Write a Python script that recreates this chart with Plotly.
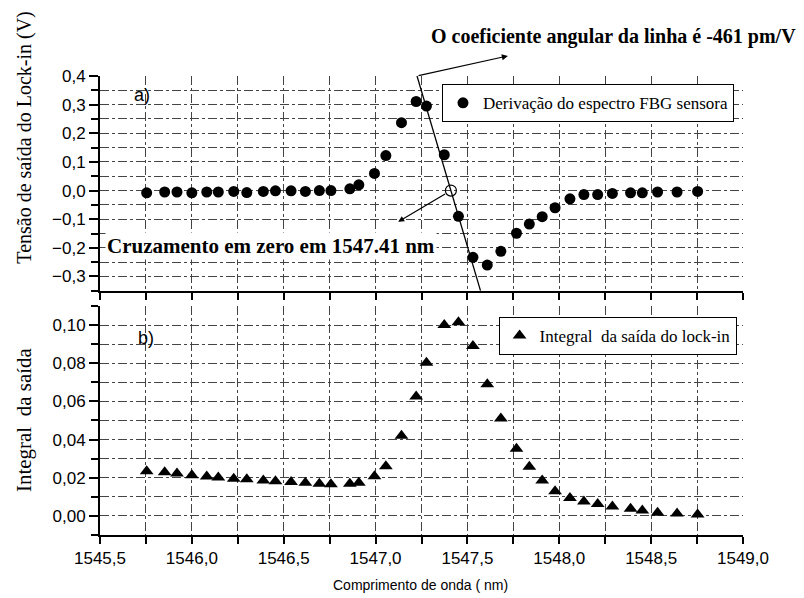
"""Derivative of the sensing FBG spectrum and its integral (lock-in output)."""

import plotly.graph_objects as go

# wavelength of each measurement (nm), shared by both panels
wavelength = [
    1545.754, 1545.852, 1545.919, 1546.000, 1546.081, 1546.144, 1546.228,
    1546.299, 1546.389, 1546.455, 1546.540, 1546.618, 1546.694, 1546.757,
    1546.860, 1546.909, 1546.994, 1547.056, 1547.141, 1547.221, 1547.277,
    1547.374, 1547.451, 1547.530, 1547.608, 1547.682, 1547.767, 1547.837,
    1547.907, 1547.977, 1548.058, 1548.134, 1548.209, 1548.289, 1548.388,
    1548.452, 1548.535, 1548.641, 1548.753,
]

# lock-in output voltage (V) - panel a)
lockin_v = [
    -0.008, -0.005, -0.005, -0.008, -0.005, -0.005, -0.003, -0.007, -0.003,
    -0.001, -0.001, -0.003, 0.000, 0.000, 0.006, 0.020, 0.060, 0.122, 0.237,
    0.311, 0.295, 0.125, -0.090, -0.233, -0.260, -0.212, -0.149, -0.117,
    -0.091, -0.060, -0.029, -0.014, -0.014, -0.010, -0.008, -0.008, -0.005,
    -0.005, -0.003,
]

# integral of the lock-in output - panel b)
integral = [
    0.0234, 0.0229, 0.0222, 0.0213, 0.0206, 0.0201, 0.0195, 0.0192, 0.0185,
    0.0182, 0.0178, 0.0174, 0.0169, 0.0166, 0.0169, 0.0174, 0.0208, 0.0260,
    0.0420, 0.0625, 0.0803, 0.1000, 0.1014, 0.0890, 0.0690, 0.0510, 0.0352,
    0.0257, 0.0185, 0.0129, 0.0094, 0.0075, 0.0063, 0.0049, 0.0038, 0.0028,
    0.0017, 0.0012, 0.0007,
]

# linear fit through the zero crossing
zero_crossing = 1547.41  # nm
slope_pm_per_v = -461
fit_v = [0.40, -0.35]
fit_wl = [zero_crossing + slope_pm_per_v / 1000 * v for v in fit_v]

SERIF = "Liberation Serif, Times New Roman, serif"
SANS = "Liberation Sans, Arial, sans-serif"
GRID = dict(showgrid=True, gridcolor="#444", gridwidth=1, griddash="dashdot")

fig = go.Figure()

fig.add_trace(go.Scatter(
    x=wavelength, y=lockin_v, mode="markers", name="Derivação do espectro FBG sensora",
    marker=dict(symbol="circle", size=11, color="black"),
    xaxis="x", yaxis="y", legend="legend",
))
fig.add_trace(go.Scatter(
    x=fit_wl, y=fit_v, mode="lines", showlegend=False,
    line=dict(color="black", width=1.3), xaxis="x", yaxis="y",
))
fig.add_trace(go.Scatter(
    x=[zero_crossing], y=[0], mode="markers", showlegend=False,
    marker=dict(symbol="circle-open", size=11, color="black", line=dict(width=1.2)),
    xaxis="x", yaxis="y",
))
fig.add_trace(go.Scatter(
    x=wavelength, y=integral, mode="markers",
    name="Integral&nbsp;&nbsp;da saída do lock-in",
    marker=dict(symbol="triangle-up", size=12, color="black"),
    xaxis="x2", yaxis="y2", legend="legend2",
))

xcommon = dict(
    range=[1545.5, 1549.0], tick0=1545.5, dtick=0.5,
    showline=True, linecolor="black", linewidth=2,
    ticks="outside", ticklen=7, tickwidth=1.5, tickcolor="black",
    minor=dict(dtick=0.25, ticks="outside", ticklen=7, tickcolor="black", **GRID),
    zeroline=False, **GRID,
)

fig.update_layout(
    width=804, height=598,
    margin=dict(l=92, r=69, t=68, b=71),
    paper_bgcolor="white", plot_bgcolor="white",
    separators=",.",
    font=dict(family=SANS, size=17, color="black"),
    xaxis=dict(domain=[0, 1], anchor="y", showticklabels=False, **xcommon),
    xaxis2=dict(domain=[0, 1], anchor="y2", tickformat=".1f",
                tickfont=dict(family=SANS, size=17), **xcommon),
    yaxis=dict(
        domain=[0.532, 1], anchor="x", range=[-0.35, 0.4], dtick=0.1, tickformat=".1f",
        showline=True, linecolor="black", linewidth=2, zeroline=False,
        ticks="outside", ticklen=9, tickwidth=1.5, tickcolor="black",
        minor=dict(dtick=0.05, ticks="outside", ticklen=7, tickcolor="black", **GRID),
        **GRID,
    ),
    yaxis2=dict(
        domain=[0, 0.499], anchor="x2", range=[-0.01, 0.11], dtick=0.02, tickformat=".2f",
        showline=True, linecolor="black", linewidth=2, zeroline=False,
        ticks="outside", ticklen=9, tickwidth=1.5, tickcolor="black",
        minor=dict(dtick=0.01, ticks="outside", ticklen=7, tickcolor="black", **GRID),
        **GRID,
    ),
    legend=dict(
        x=0.986, y=0.982, xanchor="right", yanchor="top",
        bgcolor="white", bordercolor="black", borderwidth=1,
        font=dict(family=SERIF, size=17),
    ),
    legend2=dict(
        x=0.99, y=0.475, xanchor="right", yanchor="top",
        bgcolor="white", bordercolor="black", borderwidth=1,
        font=dict(family=SERIF, size=17),
    ),
)

annotations = [
    # panel labels
    dict(x=1545.73, y=0.334, xref="x", yref="y", text="a)", showarrow=False,
         font=dict(family=SANS, size=18)),
    dict(x=1545.75, y=0.093, xref="x2", yref="y2", text="b)", showarrow=False,
         font=dict(family=SANS, size=18)),
    # slope note and its arrow
    dict(x=0.799, y=1.087, xref="paper", yref="paper", showarrow=False,
         xanchor="center", yanchor="middle",
         text="<b>O coeficiente angular da linha é -461 pm/V</b>",
         font=dict(family=SERIF, size=20)),
    dict(x=1547.72, y=0.47, xref="x", yref="y", ax=fit_wl[0], ay=fit_v[0],
         axref="x", ayref="y", text="", showarrow=True, arrowhead=2,
         arrowsize=1, arrowwidth=1.2, arrowcolor="black"),
    # zero-crossing note and its arrow
    dict(x=1546.43, y=-0.193, xref="x", yref="y", showarrow=False,
         xanchor="center", yanchor="middle",
         text="<b>Cruzamento em zero em 1547.41 nm</b>", bgcolor="white",
         font=dict(family=SERIF, size=21)),
    dict(x=1547.123, y=-0.109, xref="x", yref="y", ax=zero_crossing, ay=0,
         axref="x", ayref="y", text="", showarrow=True, arrowhead=2,
         arrowsize=1, arrowwidth=1.2, arrowcolor="black", startstandoff=5),
    # axis titles
    dict(x=-0.118, y=0.866, xref="paper", yref="paper", textangle=-90,
         xanchor="center", yanchor="middle",
         text="Tensão de saída do Lock-in (V)", showarrow=False,
         font=dict(family=SERIF, size=20)),
    dict(x=-0.117, y=0.252, xref="paper", yref="paper", textangle=-90,
         xanchor="center", yanchor="middle",
         text="Integral&nbsp;&nbsp;da saída", showarrow=False,
         font=dict(family=SERIF, size=21)),
    dict(x=0.498, y=-0.108, xref="paper", yref="paper",
         xanchor="center", yanchor="middle",
         text="Comprimento de onda ( nm)", showarrow=False,
         font=dict(family=SANS, size=14)),
]
fig.update_layout(annotations=annotations)

fig.write_html("out.html")
